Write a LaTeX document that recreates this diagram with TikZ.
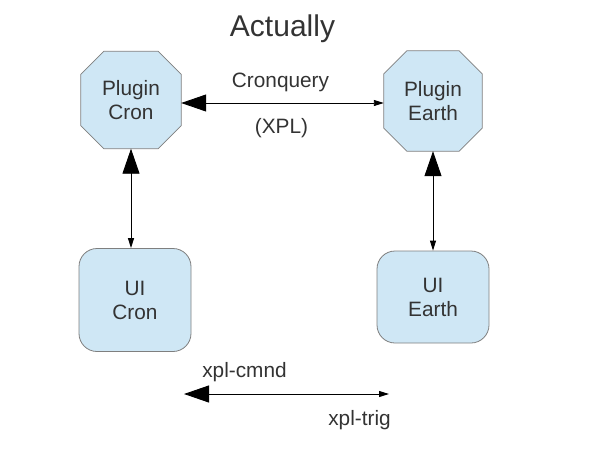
\documentclass[tikz,border=0pt]{standalone}
\usepackage{fontspec}
\setmainfont{Liberation Sans}
\usetikzlibrary{arrows.meta}
\pgfdeclarelayer{bg}
\pgfsetlayers{bg,main}
\definecolor{boxfill}{HTML}{CFE7F5}
\definecolor{boxline}{HTML}{7F7F7F}
\definecolor{txt}{HTML}{333333}
\tikzset{
  x=1pt, y=-1pt,
  lbl/.style={text=txt, font=\fontsize{20.8}{24}\selectfont, inner sep=0pt},
  plug/.style={lbl, align=center, minimum width=100pt, minimum height=97pt},
  uibox/.style={lbl, align=center, draw=boxline, fill=boxfill, line width=0.8pt, rounded corners=18pt, minimum width=112pt},
  octo/.style={draw=boxline, fill=boxfill, line width=0.8pt},
  link/.style={line width=0.9pt, {Triangle[length=25pt,width=17pt]}-{Triangle[length=10pt,width=6pt]}},
}
\begin{document}
\begin{tikzpicture}
\useasboundingbox (0,0) rectangle (600,450);
\node[lbl, font=\fontsize{30}{36}\selectfont, anchor=base] (title) at (282.5,36) {Actually};
\node[plug] (pc) at (131,100) {Plugin\\Cron};
\node[plug, minimum width=98pt, minimum height=100pt] (pe) at (433,101) {Plugin\\Earth};
\node[uibox, minimum height=103pt] (uc) at (135,300) {UI\\Cron};
\node[uibox, minimum height=92pt] (ue) at (433,297) {UI\\Earth};
\begin{pgfonlayer}{bg}
\foreach \n in {pc,pe}{
  \draw[octo] ([xshift=23pt]\n.north west) -- ([xshift=-23pt]\n.north east)
    -- ([yshift=-23pt]\n.north east) -- ([yshift=23pt]\n.south east)
    -- ([xshift=-23pt]\n.south east) -- ([xshift=23pt]\n.south west)
    -- ([yshift=23pt]\n.south west) -- ([yshift=-23pt]\n.north west) -- cycle;
}
\end{pgfonlayer}
\node[lbl, anchor=base] (cq) at (280.5,87) {Cronquery};
\node[lbl, anchor=base] (xpl) at (281.5,133) {(XPL)};
\node[lbl, anchor=base] (cmnd) at (244.5,377) {xpl-cmnd};
\node[lbl, anchor=base] (trig) at (359.5,425) {xpl-trig};
\coordinate (bl) at (184,394);
\coordinate (br) at (389,394);
\draw[link] (pc.east |- 0,103) -- (pe.west |- 0,103);
\draw[link] (pc.south) -- (pc.south |- uc.north);
\draw[link] (pe.south) -- (pe.south |- ue.north);
\draw[link] (bl) -- (br);
\end{tikzpicture}
\end{document}
